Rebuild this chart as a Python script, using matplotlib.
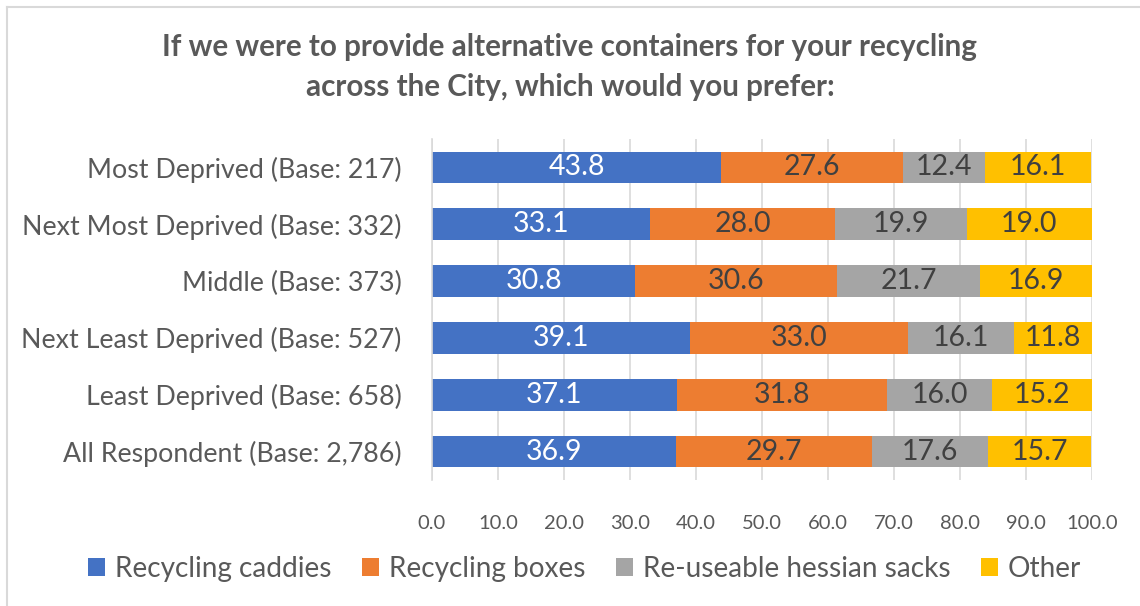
import matplotlib.pyplot as plt
from matplotlib.lines import Line2D

# categories, top to bottom as in the picture
categories = [
    "Most Deprived (Base: 217)",
    "Next Most Deprived (Base: 332)",
    "Middle (Base: 373)",
    "Next Least Deprived (Base: 527)",
    "Least Deprived (Base: 658)",
    "All Respondent (Base: 2,786)",
]
caddies = [43.8, 33.1, 30.8, 39.1, 37.1, 36.9]
boxes = [27.6, 28.0, 30.6, 33.0, 31.8, 29.7]
sacks = [12.4, 19.9, 21.7, 16.1, 16.0, 17.6]
other = [16.1, 19.0, 16.9, 11.8, 15.2, 15.7]
series_names = ["Recycling caddies", "Recycling boxes", "Re-useable hessian sacks", "Other"]
xticks = [0, 10, 20, 30, 40, 50, 60, 70, 80, 90, 100]

colors = ["#4472C4", "#ED7D31", "#A5A5A5", "#FFC000"]
label_colors = ["white", "#404040", "#404040", "#404040"]
grey = "#595959"

plt.rcParams["font.family"] = ["Lato", "DejaVu Sans"]

fig = plt.figure(figsize=(11.4, 6.06), dpi=100)
ax = fig.add_axes([432 / 1140, 1 - 480 / 606, 660 / 1140, 341 / 606])

ypos = list(range(len(categories)))
left = [0.0] * len(categories)
for vals, name, col, lc in zip([caddies, boxes, sacks, other], series_names, colors, label_colors):
    bars = ax.barh(ypos, vals, left=left, height=0.56, color=col, label=name, zorder=2)
    ax.bar_label(bars, labels=[f"{v:.1f}" for v in vals], label_type="center",
                 color=lc, fontsize=20.5)
    left = [a + b for a, b in zip(left, vals)]

ax.set_xlim(0, 100)
ax.set_ylim(len(categories) - 0.5, -0.5)
ax.set_yticks(ypos)
ax.set_yticklabels(categories, fontsize=19.3, color=grey)
ax.set_xticks(xticks)
ax.set_xticklabels([f"{t:.1f}" for t in xticks], fontsize=14.5, color=grey)
ax.tick_params(axis="y", length=0, pad=22)
ax.tick_params(axis="x", length=0, pad=25)
ax.grid(axis="x", color="#D9D9D9", linewidth=1.2, zorder=0)
for s in ["top", "right", "bottom"]:
    ax.spines[s].set_visible(False)
ax.spines["left"].set_color("#D9D9D9")
ax.spines["left"].set_linewidth(1.2)

fig.text(0.5, 1 - 47 / 606, "If we were to provide alternative containers for your recycling",
         ha="center", va="center", fontsize=21.3, fontweight="bold", color=grey)
fig.text(0.5, 1 - 87 / 606, "across the City, which would you prefer:",
         ha="center", va="center", fontsize=21.3, fontweight="bold", color=grey)

leg = fig.legend(loc="center", bbox_to_anchor=(0.513, 1 - 569 / 606), ncol=4, frameon=False,
                 fontsize=20.2, handlelength=0.6, handleheight=0.6, handletextpad=0.35,
                 columnspacing=1.1)
for t in leg.get_texts():
    t.set_color(grey)

# chart area border (top and left edges visible)
fig.add_artist(Line2D([7 / 1140, 1], [1 - 7 / 606, 1 - 7 / 606], transform=fig.transFigure,
                      color="#D9D9D9", linewidth=1.5))
fig.add_artist(Line2D([7 / 1140, 7 / 1140], [0, 1 - 7 / 606], transform=fig.transFigure,
                      color="#D9D9D9", linewidth=1.5))

fig.savefig("out.png", dpi=100)
